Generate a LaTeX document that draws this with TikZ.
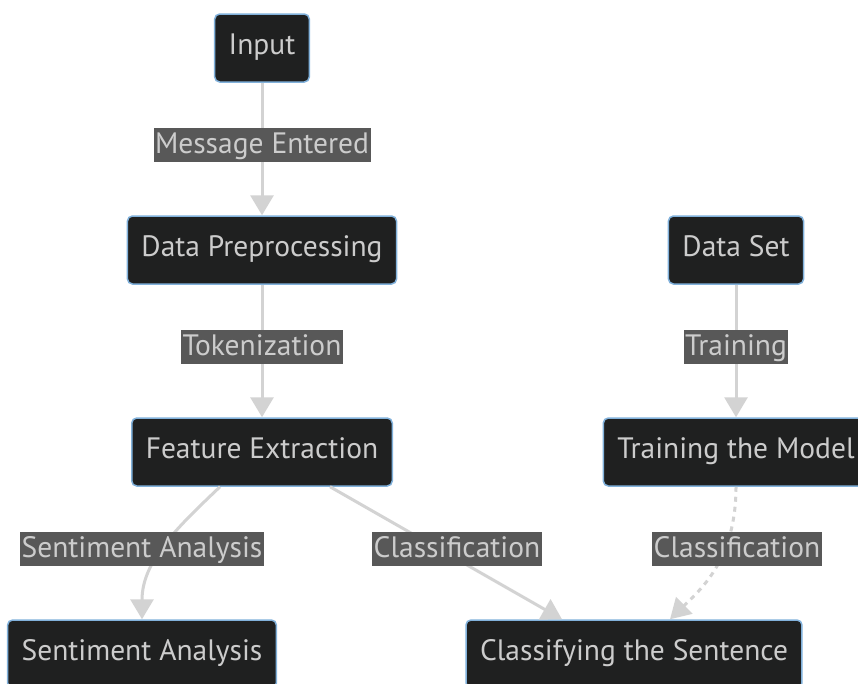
\documentclass[tikz,border=0pt]{standalone}
\usepackage{fontspec}
\setmainfont{PT Sans}
\usetikzlibrary{arrows.meta}

\definecolor{boxfill}{HTML}{1F2020}
\definecolor{boxline}{HTML}{81B1DB}
\definecolor{boxtext}{HTML}{CCCCCC}
\definecolor{lblfill}{HTML}{585858}
\definecolor{edgecol}{HTML}{D3D3D3}

\tikzset{
  block/.style={draw=boxline, fill=boxfill, text=boxtext, rounded corners=5pt,
    line width=1.5pt, minimum height=68pt, inner xsep=14pt,
    text height=20pt, text depth=8pt,
    font=\fontsize{29.5}{32}\selectfont},
  lbl/.style={fill=lblfill, text=boxtext, inner xsep=1.5pt, inner ysep=3pt,
    text height=22pt, text depth=6pt,
    font=\fontsize{29.5}{32}\selectfont},
  flow/.style={draw=edgecol, line width=3pt, -{Triangle[length=20pt,width=23pt]}},
  dotflow/.style={flow, dash pattern=on 5pt off 5pt},
}

\begin{document}
\begin{tikzpicture}[x=1pt,y=-1pt]
  \clip (0,0) rectangle (858,683);
  \fill[white] (0,0) rectangle (858,683);

  % left column
  \node[block] (in) at (262,48) {Input};
  \node[block] (pre) at (262,250) {Data Preprocessing};
  \node[block] (fe) at (262,452) {Feature Extraction};
  % right column
  \node[block] (ds) at (736,250) {Data Set};
  \node[block] (tm) at (736,452) {Training the Model};
  % bottom row
  \node[block] (sa) at (142,654) {Sentiment Analysis};
  \node[block] (cs) at (634,654) {Classifying the Sentence};

  % edges
  \draw[flow] (in) -- (pre);
  \draw[flow] (pre) -- (fe);
  \draw[flow] (ds) -- (tm);
  \draw[flow] ([xshift=-42pt]fe.south) .. controls (180,525) and (142,560) .. (sa.north);
  \draw[flow] ([xshift=68pt]fe.south) -- ([xshift=-72pt]cs.north);
  \draw[dotflow] (tm.south) .. controls (736,560) and (700,590) .. ([xshift=36pt]cs.north);

  % edge labels
  \node[lbl] (l1) at (262,145) {Message Entered};
  \node[lbl] (l2) at (262,347) {Tokenization};
  \node[lbl] (l3) at (736,347) {Training};
  \node[lbl] (l4) at (142,549) {Sentiment Analysis};
  \node[lbl] (l5) at (457,549) {Classification};
  \node[lbl] (l6) at (737,549) {Classification};
\end{tikzpicture}
\end{document}
